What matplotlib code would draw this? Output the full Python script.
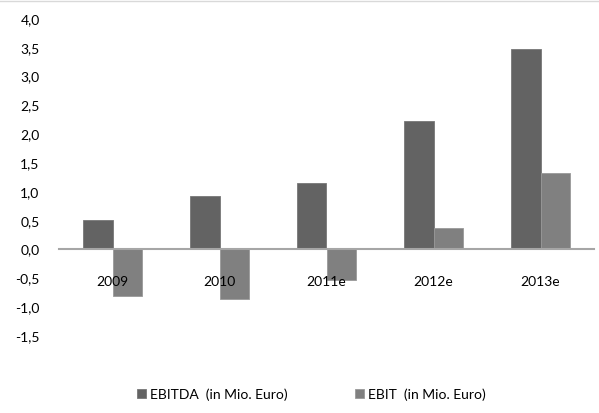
import numpy as np
import matplotlib.pyplot as plt
from matplotlib.lines import Line2D

# Daten
jahre = ["2009", "2010", "2011e", "2012e", "2013e"]
ebitda = [0.49, 0.92, 1.13, 2.22, 3.47]
ebit = [-0.83, -0.87, -0.55, 0.35, 1.31]
yticks = [-1.5, -1.0, -0.5, 0.0, 0.5, 1.0, 1.5, 2.0, 2.5, 3.0, 3.5, 4.0]

plt.rcParams['font.family'] = ['Lato', 'DejaVu Sans']

fig = plt.figure(figsize=(5.99, 4.14), dpi=100)
ax = fig.add_axes([59/599, 1 - 336/414, 535/599, 317/414])

x = np.arange(len(jahre))
b = 0.28
ax.bar(x - b/2, ebitda, b, color='#636363', edgecolor='#777777', linewidth=0.6,
       label="EBITDA  (in Mio. Euro)")
ax.bar(x + b/2, ebit, b, color='#808080', edgecolor='#999999', linewidth=0.6,
       label="EBIT  (in Mio. Euro)")

ax.set_xlim(-0.5, len(jahre) - 0.5)
ax.set_ylim(-1.5, 4.0)
ax.set_yticks(yticks)
ax.set_yticklabels([f"{v:.1f}".replace(".", ",") for v in yticks], fontsize=10)
ax.set_xticks(x)
ax.set_xticklabels(jahre, fontsize=10)

for s in ['top', 'right', 'left']:
    ax.spines[s].set_visible(False)
ax.spines['bottom'].set_position(('data', 0))
ax.spines['bottom'].set_color('#a6a6a6')
ax.spines['bottom'].set_linewidth(1.5)
ax.tick_params(axis='x', length=0, pad=19)
ax.tick_params(axis='y', length=0, pad=14)

fig.legend(loc='lower center', bbox_to_anchor=(0.52, 0.0), ncol=2, frameon=False,
           fontsize=10, handlelength=0.6, handleheight=0.6, handletextpad=0.3,
           columnspacing=4.9)

# Rahmenlinie oben
fig.add_artist(Line2D([0, 1], [1 - 1.5/414, 1 - 1.5/414], color='#d9d9d9', linewidth=1))

fig.savefig("out.png", dpi=100)
